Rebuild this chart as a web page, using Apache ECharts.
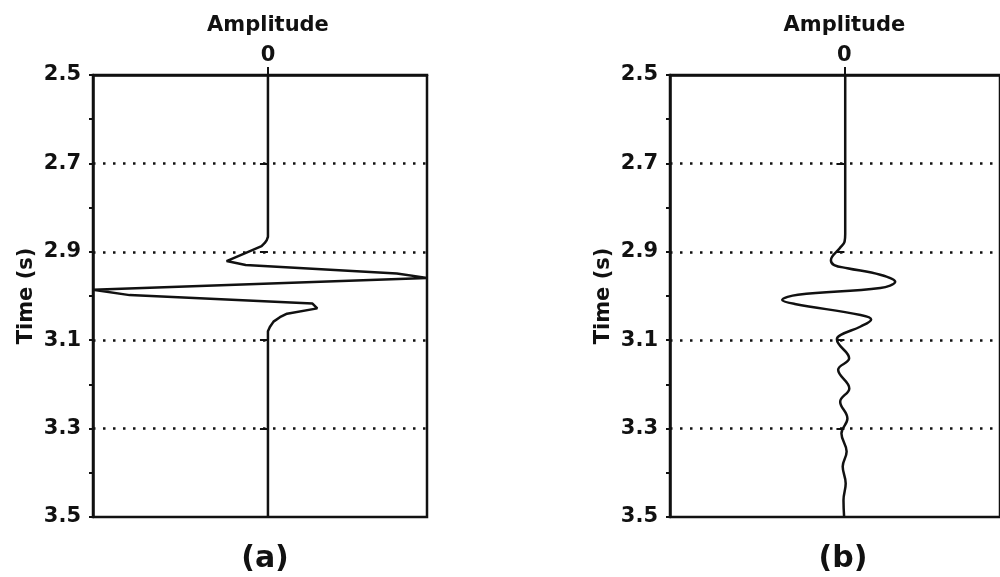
<!DOCTYPE html>
<html>
<head>
<meta charset="utf-8">
<title>Seismic wavelets</title>
<script src="https://cdn.jsdelivr.net/npm/echarts@6/dist/echarts.min.js"></script>
<style>
  html, body { margin: 0; padding: 0; background: #fff; }
  #chart { width: 1000px; height: 577px; }
</style>
</head>
<body>
<div id="chart"></div>
<script>
// Trace (a): time samples (s) and amplitudes
const timeA = [2.50, 2.866, 2.874, 2.880, 2.887, 2.900, 2.921, 2.930, 2.949, 2.959,
               2.986, 2.998, 3.017, 3.028, 3.040, 3.048, 3.058, 3.070, 3.080, 3.50];
const ampA  = [0, 0, -0.008, -0.02, -0.04, -0.124, -0.26, -0.14, 0.81, 1.00,
               -1.10, -0.87, 0.28, 0.31, 0.12, 0.075, 0.035, 0.012, 0, 0];

// Trace (b): time samples (s) and amplitudes
const timeB = [2.50, 2.860, 2.877, 2.892, 2.919, 2.930, 2.937, 2.952, 2.968, 2.982,
               2.997, 3.009, 3.018, 3.043, 3.053, 3.069, 3.088, 3.098, 3.141, 3.167,
               3.209, 3.239, 3.277, 3.311, 3.352, 3.386, 3.424, 3.462, 3.50];
const ampB  = [0.005, 0.005, 0.001, -0.03, -0.086, -0.065, 0.019, 0.228, 0.323, 0.228,
               -0.296, -0.396, -0.316, 0.103, 0.17, 0.103, -0.023, -0.048, 0.03, -0.04,
               0.031, -0.027, 0.019, -0.019, 0.014, -0.011, 0.008, -0.006, -0.002];

// Axis settings
const timeMin = 2.5, timeMax = 3.5;
const minorStep = 0.1, labelStep = 0.2;
const dottedTimes = [2.7, 2.9, 3.1, 3.3];
const ampLabelValues = [0];
const panelLabels = ['(a)', '(b)'];
const ampName = 'Amplitude';
const timeName = 'Time (s)';

const FONT = 'DejaVu Sans';
const INK = '#111';
const LW = 2.5;

function pairs(amps, times) {
  return amps.map((a, i) => [a, times[i]]);
}

function ampAxis(gridIndex, min, max) {
  return {
    type: 'value', gridIndex, position: 'top', min, max,
    axisLine: { show: true, onZero: false, lineStyle: { color: INK, width: LW } },
    axisTick: { show: true, inside: false, length: 8, customValues: ampLabelValues,
                lineStyle: { color: INK, width: 2 } },
    axisLabel: {
      show: true, customValues: ampLabelValues, margin: 7,
      formatter: v => '{t|' + ampName + '}\n{v|' + v + '}',
      rich: {
        t: { fontFamily: FONT, fontSize: 21, fontWeight: 'bold', color: INK, lineHeight: 36, align: 'center' },
        v: { fontFamily: FONT, fontSize: 21, fontWeight: 'bold', color: INK, lineHeight: 24, align: 'center' }
      }
    },
    splitLine: { show: false }
  };
}

function timeAxes(gridIndex) {
  return [
    {
      type: 'value', gridIndex, inverse: true, min: timeMin, max: timeMax, interval: minorStep,
      position: 'left',
      axisLine: { show: true, onZero: false, lineStyle: { color: INK, width: LW } },
      axisTick: { show: true, inside: false, length: 4, lineStyle: { color: INK, width: 2 } },
      axisLabel: { show: false },
      splitLine: { show: false },
      name: timeName, nameLocation: 'middle', nameGap: 56, nameRotate: 90,
      nameTextStyle: { fontFamily: FONT, fontSize: 21, fontWeight: 'bold', color: INK }
    },
    {
      type: 'value', gridIndex, inverse: true, min: timeMin, max: timeMax, interval: labelStep,
      position: 'left',
      axisLine: { show: false },
      axisTick: { show: true, inside: false, length: 8, lineStyle: { color: INK, width: 2 } },
      axisLabel: { show: true, margin: 12, fontFamily: FONT, fontSize: 21, fontWeight: 'bold',
                   color: INK, formatter: v => v.toFixed(1) },
      splitLine: { show: false }
    }
  ];
}

function dottedLines() {
  return {
    silent: true, symbol: 'none', label: { show: false },
    lineStyle: { color: INK, type: [2.5, 7.5], width: 2.5 },
    data: dottedTimes.map(t => ({ yAxis: t }))
  };
}

const chart = echarts.init(document.getElementById('chart'), null, { renderer: 'canvas' });

chart.setOption({
  backgroundColor: '#fff',
  animation: false,
  grid: [
    { left: 93, top: 75, width: 334, height: 442, show: true,
      borderColor: INK, borderWidth: LW, backgroundColor: 'transparent' },
    { left: 670, top: 75, width: 334, height: 442, show: true,
      borderColor: INK, borderWidth: LW, backgroundColor: 'transparent' }
  ],
  title: [
    { text: panelLabels[0], left: 260, top: 539, textAlign: 'center',
      textStyle: { fontFamily: FONT, fontSize: 30, fontWeight: 'bold', color: INK } },
    { text: panelLabels[1], left: 838, top: 539, textAlign: 'center',
      textStyle: { fontFamily: FONT, fontSize: 30, fontWeight: 'bold', color: INK } }
  ],
  xAxis: [ampAxis(0, -1.10, 1.00), ampAxis(1, -1.11, 0.99)],
  yAxis: [...timeAxes(0), ...timeAxes(1)],
  series: [
    {
      type: 'line', xAxisIndex: 0, yAxisIndex: 0, data: pairs(ampA, timeA),
      symbol: 'none', smooth: false, clip: false,
      lineStyle: { color: INK, width: LW },
      markLine: dottedLines(), z: 3
    },
    {
      type: 'line', xAxisIndex: 1, yAxisIndex: 2, data: pairs(ampB, timeB),
      symbol: 'none', smooth: 0.4, clip: false,
      lineStyle: { color: INK, width: LW },
      markLine: dottedLines(), z: 3
    }
  ]
});
</script>
</body>
</html>
